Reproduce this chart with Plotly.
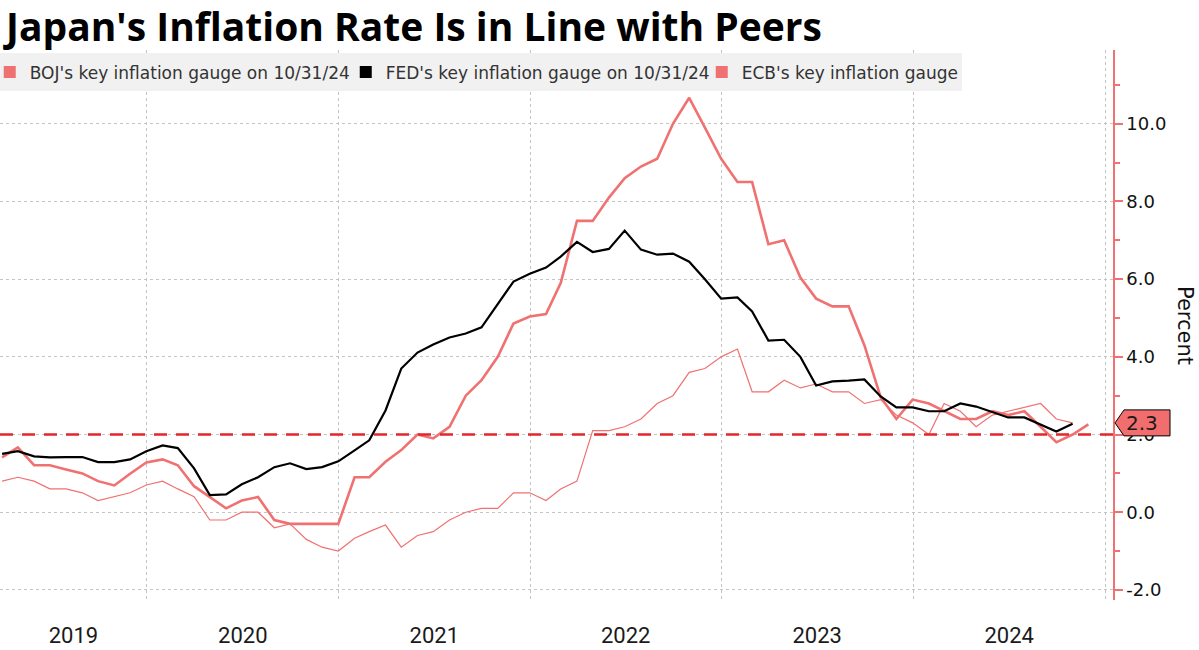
import pandas as pd
import plotly.graph_objects as go

# ---------------- data (monthly, month-end) ----------------
fed_start = "2019-03-31"
fed_values = [
    1.50, 1.57, 1.44, 1.41, 1.42, 1.42, 1.29, 1.29, 1.36, 1.57,
    1.72, 1.65, 1.13, 0.44, 0.46, 0.72, 0.90, 1.16, 1.26, 1.11, 1.16, 1.31,
    1.59, 1.85, 2.62, 3.70, 4.11, 4.32, 4.50, 4.60, 4.76, 5.37, 5.94, 6.14,
    6.30, 6.58, 6.96, 6.70, 6.78, 7.25, 6.76, 6.63, 6.66, 6.45, 6.00, 5.50,
    5.53, 5.17, 4.42, 4.44, 4.00, 3.26, 3.37, 3.39, 3.42, 2.98, 2.70, 2.70,
    2.60, 2.60, 2.80, 2.72, 2.57, 2.44, 2.44, 2.26, 2.08, 2.28,
]

ecb_start = "2019-03-31"
ecb_values = [
    1.41, 1.67, 1.21, 1.21, 1.10, 1.00, 0.80, 0.69, 0.99, 1.28,
    1.36, 1.21, 0.67, 0.39, 0.10, 0.30, 0.39, -0.20, -0.30, -0.30, -0.30, -0.30,
    0.90, 0.90, 1.30, 1.60, 2.00, 1.90, 2.20, 3.00, 3.40, 4.00, 4.86, 5.04,
    5.10, 5.90, 7.50, 7.50, 8.10, 8.60, 8.90, 9.10, 10.00, 10.67, 9.90, 9.10,
    8.50, 8.50, 6.90, 7.00, 6.04, 5.50, 5.30, 5.30, 4.30, 2.96, 2.40, 2.90,
    2.80, 2.60, 2.40, 2.40, 2.60, 2.50, 2.60, 2.20, 1.80, 2.00, 2.26,
]

boj_start = "2019-03-31"
boj_values = [
    0.80, 0.90, 0.80, 0.60, 0.60, 0.50, 0.30, 0.40, 0.50, 0.70,
    0.80, 0.60, 0.40, -0.20, -0.20, 0.00, 0.00, -0.40, -0.30, -0.70, -0.90, -1.00,
    -0.67, -0.50, -0.33, -0.90, -0.60, -0.50, -0.20, 0.00, 0.10, 0.10, 0.50, 0.50,
    0.30, 0.60, 0.80, 2.10, 2.10, 2.20, 2.40, 2.80, 3.00, 3.60, 3.70, 4.00,
    4.20, 3.10, 3.10, 3.40, 3.20, 3.30, 3.10, 3.10, 2.80, 2.90, 2.50, 2.30,
    2.00, 2.80, 2.60, 2.20, 2.50, 2.60, 2.70, 2.80, 2.40, 2.30,
]

legend_names = [
    "BOJ's key inflation gauge on 10/31/24",
    "FED's key inflation gauge on 10/31/24",
    "ECB's key inflation gauge",
]

year_labels = ["2019", "2020", "2021", "2022", "2023", "2024"]
year_label_dates = ["2019-08-14", "2020-07-02", "2021-07-02", "2022-07-02", "2023-07-02", "2024-07-02"]

y_tick_values = [-2, 0, 2, 4, 6, 8, 10]
y_tick_labels = ["-2.0", "0.0", "2.0", "4.0", "6.0", "8.0", "10.0"]

target_level = 2.0
last_value_label = 2.3


def month_ends(start, n):
    try:
        return pd.date_range(start, periods=n, freq="ME")
    except Exception:
        return pd.date_range(start, periods=n, freq="M")


SALMON = "#f07171"
BLACK = "#000000"

fig = go.Figure()

fig.add_trace(go.Scatter(
    x=month_ends(boj_start, len(boj_values)), y=boj_values, mode="lines",
    line=dict(color=SALMON, width=1.2), showlegend=False, hoverinfo="skip"))
fig.add_trace(go.Scatter(
    x=month_ends(ecb_start, len(ecb_values)), y=ecb_values, mode="lines",
    line=dict(color=SALMON, width=2.6), showlegend=False, hoverinfo="skip"))
fig.add_trace(go.Scatter(
    x=month_ends(fed_start, len(fed_values)), y=fed_values, mode="lines",
    line=dict(color=BLACK, width=2.2), showlegend=False, hoverinfo="skip"))

# legend entries (square swatches)
for name, col in zip(legend_names, [SALMON, BLACK, SALMON]):
    fig.add_trace(go.Scatter(
        x=[None], y=[None], mode="markers", name=name,
        marker=dict(symbol="square", size=12, color=col)))

# legend background panel
fig.add_shape(type="rect", xref="paper", yref="paper", xsizemode="pixel", ysizemode="pixel",
              xanchor=0, yanchor=1, x0=0, x1=962, y0=-3, y1=-41, layer="above",
              fillcolor="#f1f1f1", line=dict(width=0))

# 2% target line
fig.add_shape(type="line", xref="paper", yref="y", x0=0, x1=1,
              y0=target_level, y1=target_level, layer="above",
              line=dict(color="#e3262c", width=2.5, dash="13px,9px"))

# last value flag
fig.add_shape(type="path", xref="paper", yref="y", xsizemode="pixel", ysizemode="pixel",
              xanchor=1, yanchor=last_value_label, layer="above",
              path="M 2,0 L 11,13 L 57,13 L 57,-13 L 11,-13 Z",
              fillcolor="#f26d6d", line=dict(color="#000000", width=1))
fig.add_annotation(xref="paper", yref="y", x=1, y=last_value_label,
                   xanchor="left", yanchor="middle", xshift=11, showarrow=False,
                   text=f"{last_value_label:.1f}",
                   font=dict(family="DejaVu Sans", size=20, color="#1a1a1a"))

# axis title
fig.add_annotation(xref="paper", yref="paper", x=1, y=0.5, xshift=72,
                   xanchor="center", yanchor="middle", showarrow=False,
                   text="Percent", textangle=90,
                   font=dict(family="DejaVu Sans", size=21, color="#111111"))

fig.update_layout(
    width=1199, height=650,
    margin=dict(l=0, r=86, t=50, b=50, autoexpand=False),
    paper_bgcolor="white", plot_bgcolor="white",
    title=dict(text="<b>Japan's Inflation Rate Is in Line with Peers</b>",
               x=0.005, xanchor="left", xref="container",
               y=0.9585, yanchor="middle", yref="container",
               font=dict(family="Open Sans", size=39, color="#000000")),
    legend=dict(orientation="h", x=-0.0137, xanchor="left", y=1.001, yanchor="top",
                bgcolor="rgba(0,0,0,0)", borderwidth=5, bordercolor="rgba(0,0,0,0)",
                font=dict(family="DejaVu Sans", size=17, color="#333333"),
                itemsizing="trace", entrywidth=311, entrywidthmode="pixels",
                tracegroupgap=0),
    xaxis=dict(
        type="date", range=["2019-03-27", "2025-01-16"], automargin=False,
        tickvals=year_label_dates, ticktext=year_labels,
        showgrid=False, ticks="", showline=False, zeroline=False,
        ticklabelstandoff=20,
        tickfont=dict(family="Roboto", size=22, color="#1a1a1a"),
        minor=dict(dtick="M12", tick0="2020-01-01", showgrid=True,
                   gridcolor="#c4c4c4", griddash="dot", gridwidth=1, ticks=""),
    ),
    yaxis=dict(
        side="right", range=[-2.26, 11.9], automargin=False,
        tickvals=y_tick_values, ticktext=y_tick_labels,
        showgrid=True, gridcolor="#c4c4c4", griddash="dot", gridwidth=1,
        zeroline=False, showline=True, linecolor=SALMON, linewidth=1.5,
        ticks="outside", ticklen=8, tickcolor=SALMON, tickwidth=1.5,
        minor=dict(dtick=1, tick0=0, ticks="outside", ticklen=5, tickcolor=SALMON, showgrid=False),
        tickfont=dict(family="DejaVu Sans", size=18, color="#111111"),
    ),
)

fig.write_html("out.html", config={"displayModeBar": False},
               post_script="document.body.style.margin='0px';")
